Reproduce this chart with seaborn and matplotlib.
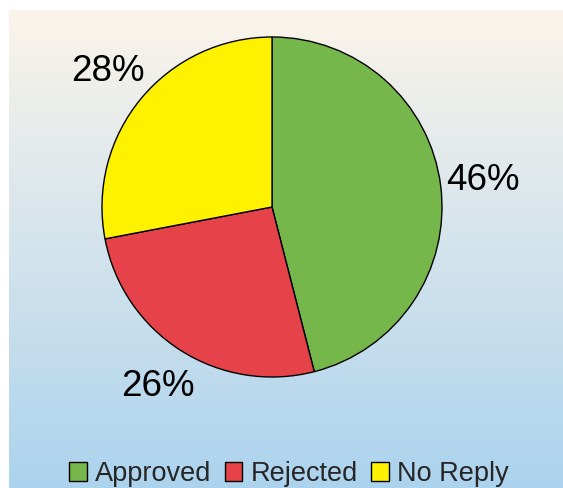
import numpy as np
import matplotlib
matplotlib.use("Agg")
import matplotlib.pyplot as plt
import seaborn as sns
from matplotlib.colors import LinearSegmentedColormap

# datos del grafico
labels = ['Approved', 'Rejected', 'No Reply']
shares = [46, 26, 28]
colors = ['#76B74B', '#E5424A', '#FFF200']

sns.set_style('white')
plt.rcParams['font.family'] = ['Liberation Sans', 'DejaVu Sans']

W, H = 563, 488
fig = plt.figure(figsize=(W / 100, H / 100), dpi=100)

# fondo con degradado
bg = fig.add_axes([9 / W, 0, (W - 9) / W, (H - 10) / H], zorder=-1)
cmap = LinearSegmentedColormap.from_list('bg', ['#FBF4EA', '#ACD3EE'])
bg.imshow(np.linspace(0, 1, 256).reshape(-1, 1), aspect='auto', cmap=cmap,
          extent=[0, 1, 0, 1])
bg.set_axis_off()

# pastel
cx, cy, r = 272, 207, 170
ax = fig.add_axes([(cx - r) / W, (H - cy - r) / H, 2 * r / W, 2 * r / H])
wedges, texts, autotexts = ax.pie(
    shares, colors=colors, startangle=90, counterclock=False,
    autopct='%d%%', pctdistance=1.25,
    wedgeprops={'edgecolor': 'black', 'linewidth': 1.0},
    textprops={'fontsize': 26.5, 'color': 'black'})
ax.set_xlim(-1, 1)
ax.set_ylim(-1, 1)
ax.set_aspect('equal')
ax.set_axis_off()

fig.legend(wedges, labels, loc='center', bbox_to_anchor=(289 / W, 1 - 474 / H),
           ncol=3, frameon=False, fontsize=19.5, handlelength=0.65, handleheight=0.65,
           handletextpad=0.3, columnspacing=0.5)

fig.savefig('out.png', dpi=100)
